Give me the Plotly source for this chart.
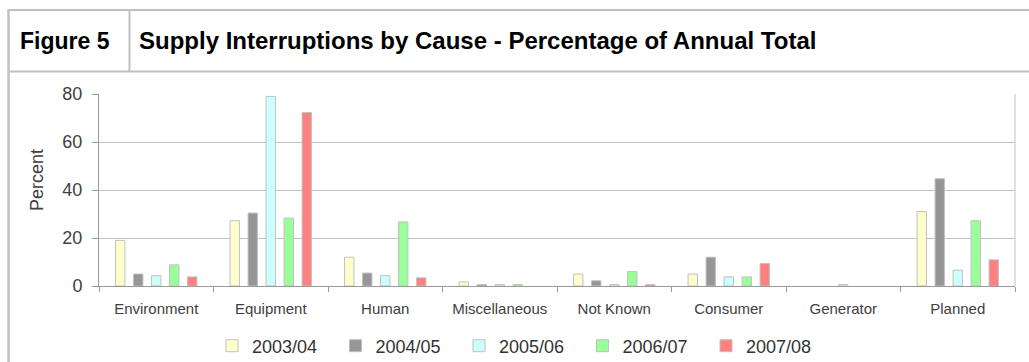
import plotly.graph_objects as go

categories = ["Environment", "Equipment", "Human", "Miscellaneous", "Not Known",
              "Consumer", "Generator", "Planned"]
series_names = ["2003/04", "2004/05", "2005/06", "2006/07", "2007/08"]
v_2003_04 = [19.0, 27.2, 12.0, 1.7, 5.0, 5.0, 0.0, 31.0]
v_2004_05 = [5.0, 30.4, 5.4, 0.6, 2.2, 12.0, 0.0, 44.7]
v_2005_06 = [4.3, 79.0, 4.3, 0.6, 0.6, 3.8, 0.6, 6.6]
v_2006_07 = [8.8, 28.3, 26.7, 0.6, 6.0, 3.8, 0.0, 27.2]
v_2007_08 = [3.8, 72.3, 3.4, 0.0, 0.6, 9.4, 0.0, 10.9]
series_values = [v_2003_04, v_2004_05, v_2005_06, v_2006_07, v_2007_08]
colors = ["#ffffcc", "#969696", "#ccffff", "#99ff99", "#ff8080"]
y_ticks = [0, 20, 40, 60, 80]

W, H = 1029, 362
L, R, T, B = 99, 14, 94, 76
PW, PH = W - L - R, H - T - B


def px(x):
    return (x - L) / PW


def py(y):
    return (H - B - y) / PH


FONT = "Liberation Sans, Arial, sans-serif"

fig = go.Figure()
for name, vals, col in zip(series_names, series_values, colors):
    fig.add_trace(go.Bar(
        x=categories, y=vals, name=name,
        marker=dict(color=col,
                    line=dict(color="#c0c0c0", width=[0 if v == 0 else 1 for v in vals])),
    ))

border = "#c0c0c0"
shapes = [
    dict(type="line", xref="paper", yref="paper", x0=px(8.5), x1=px(1040), y0=py(10), y1=py(10),
         line=dict(color=border, width=2)),
    dict(type="line", xref="paper", yref="paper", x0=px(8.5), x1=px(1040), y0=py(71.5), y1=py(71.5),
         line=dict(color=border, width=2)),
    dict(type="line", xref="paper", yref="paper", x0=px(8.5), x1=px(8.5), y0=py(9), y1=py(370),
         line=dict(color=border, width=2.5)),
    dict(type="line", xref="paper", yref="paper", x0=px(129.5), x1=px(129.5), y0=py(10), y1=py(71.5),
         line=dict(color=border, width=2)),
    dict(type="line", xref="paper", yref="paper", x0=1, x1=1, y0=0, y1=1,
         line=dict(color=border, width=1)),
]

annotations = [
    dict(text="<b>Figure 5</b>", xref="paper", yref="paper", x=px(18), y=py(41),
         xanchor="left", yanchor="middle", showarrow=False,
         font=dict(family=FONT, size=23, color="#000000")),
    dict(text="<b>Supply Interruptions by Cause - Percentage of Annual Total</b>",
         xref="paper", yref="paper", x=px(137), y=py(41),
         xanchor="left", yanchor="middle", showarrow=False,
         font=dict(family=FONT, size=24, color="#000000")),
    dict(text="Percent", xref="paper", yref="paper", x=px(37), y=py(180),
         xanchor="center", yanchor="middle", showarrow=False, textangle=-90,
         font=dict(family=FONT, size=18, color="#404040")),
]

fig.update_layout(
    width=W, height=H,
    margin=dict(l=L, r=R, t=T, b=B, pad=0, autoexpand=False),
    paper_bgcolor="white", plot_bgcolor="white",
    barmode="group", bargap=0.214, bargroupgap=0.48,
    font=dict(family=FONT, color="#404040"),
    shapes=shapes, annotations=annotations,
    showlegend=True,
    legend=dict(orientation="h", x=px(521), xanchor="center", y=py(346), yanchor="middle",
                font=dict(family=FONT, size=18, color="#333333"),
                entrywidth=78.5, itemwidth=30, traceorder="normal",
                bgcolor="rgba(0,0,0,0)"),
)
fig.update_xaxes(
    type="category", showgrid=False, showline=True, linecolor="#999999", linewidth=1,
    ticks="outside", tickson="boundaries", ticklen=5, tickcolor="#999999", automargin=False,
    tickfont=dict(family=FONT, size=15, color="#404040"), ticklabelstandoff=9,
)
fig.update_yaxes(
    range=[0, 80], tickvals=y_ticks, showgrid=True, gridcolor="#c0c0c0", gridwidth=1,
    showline=True, linecolor="#999999", linewidth=1, ticks="outside", ticklen=6,
    tickcolor="#999999", zeroline=False, automargin=False,
    tickfont=dict(family=FONT, size=18, color="#404040"), ticklabelstandoff=6,
)

fig.write_html("out.html")
